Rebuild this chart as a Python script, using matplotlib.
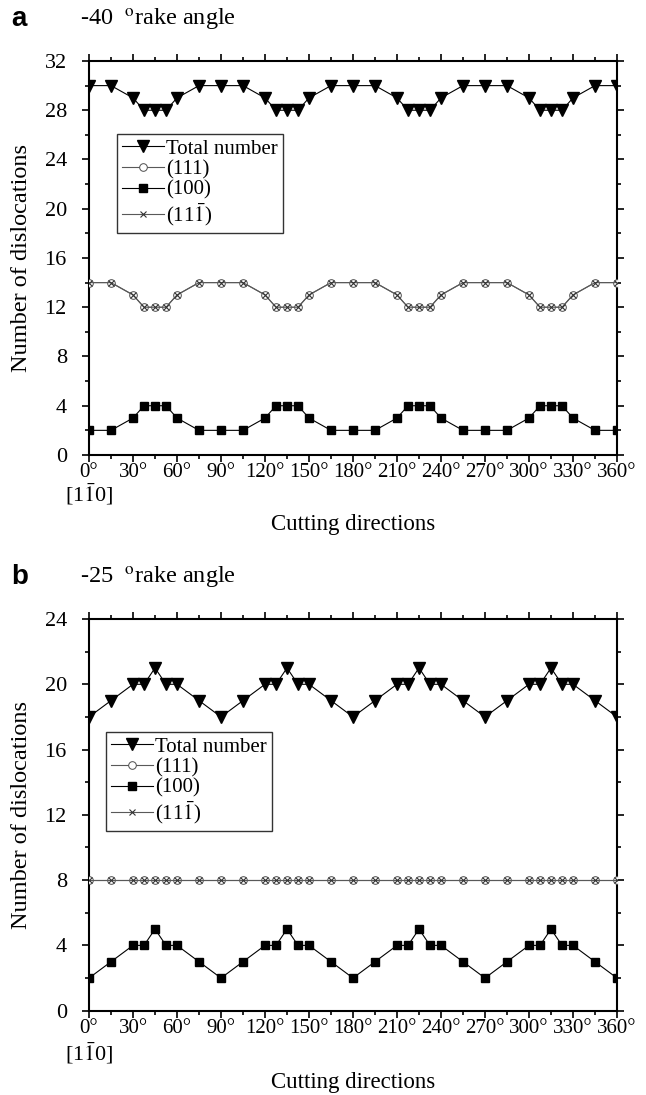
import matplotlib
matplotlib.use('Agg')
import matplotlib.pyplot as plt
from matplotlib.ticker import MultipleLocator

plt.rcParams['font.family'] = ['Liberation Serif', 'DejaVu Serif']
plt.rcParams['mathtext.fontset'] = 'stix'

# cutting directions (degrees)
angles = [0, 15, 30, 37.5, 45, 52.5, 60, 75,
          90, 105, 120, 127.5, 135, 142.5, 150, 165,
          180, 195, 210, 217.5, 225, 232.5, 240, 255,
          270, 285, 300, 307.5, 315, 322.5, 330, 345, 360]

# panel a: -40 deg rake angle
a_total = [30, 30, 29, 28, 28, 28, 29, 30,
           30, 30, 29, 28, 28, 28, 29, 30,
           30, 30, 29, 28, 28, 28, 29, 30,
           30, 30, 29, 28, 28, 28, 29, 30, 30]
a_111 = [14, 14, 13, 12, 12, 12, 13, 14,
         14, 14, 13, 12, 12, 12, 13, 14,
         14, 14, 13, 12, 12, 12, 13, 14,
         14, 14, 13, 12, 12, 12, 13, 14, 14]
a_11m1 = list(a_111)
a_100 = [2, 2, 3, 4, 4, 4, 3, 2,
         2, 2, 3, 4, 4, 4, 3, 2,
         2, 2, 3, 4, 4, 4, 3, 2,
         2, 2, 3, 4, 4, 4, 3, 2, 2]

# panel b: -25 deg rake angle
b_total = [18, 19, 20, 20, 21, 20, 20, 19,
           18, 19, 20, 20, 21, 20, 20, 19,
           18, 19, 20, 20, 21, 20, 20, 19,
           18, 19, 20, 20, 21, 20, 20, 19, 18]
b_111 = [8, 8, 8, 8, 8, 8, 8, 8,
         8, 8, 8, 8, 8, 8, 8, 8,
         8, 8, 8, 8, 8, 8, 8, 8,
         8, 8, 8, 8, 8, 8, 8, 8, 8]
b_11m1 = list(b_111)
b_100 = [2, 3, 4, 4, 5, 4, 4, 3,
         2, 3, 4, 4, 5, 4, 4, 3,
         2, 3, 4, 4, 5, 4, 4, 3,
         2, 3, 4, 4, 5, 4, 4, 3, 2]

xtick_labels = ['%d°' % v for v in range(0, 361, 30)]
legend_labels = ['Total number', '(111)', '(100)', r'(11$\bar{1}$)']


def draw_panel(ax, total, p111, p11m1, p100, ymax, leg_anchor, xlab_y, dir_y):
    ax.plot(angles, total, '-', color='k', lw=0.8, marker='v', ms=8,
            mfc='k', mec='k', label=legend_labels[0], zorder=3)
    ax.plot(angles, p111, '-', color='0.35', lw=0.8, marker='o', ms=5.5,
            mfc='white', mec='0.3', mew=0.7, label=legend_labels[1], zorder=3)
    ax.plot(angles, p100, '-', color='k', lw=0.8, marker='s', ms=6.2,
            mfc='k', mec='k', label=legend_labels[2], zorder=3)
    ax.plot(angles, p11m1, '-', color='0.35', lw=0.8, marker='x', ms=4.5,
            mec='0.2', mew=0.8, label=legend_labels[3], zorder=4)

    ax.set_xlim(0, 360)
    ax.set_ylim(0, ymax)
    ax.xaxis.set_major_locator(MultipleLocator(30))
    ax.xaxis.set_minor_locator(MultipleLocator(15))
    ax.yaxis.set_major_locator(MultipleLocator(4))
    ax.yaxis.set_minor_locator(MultipleLocator(2))
    ax.set_xticks(range(0, 361, 30))
    ax.set_xticklabels(xtick_labels)
    ax.tick_params(which='both', direction='out', top=True, right=True,
                   width=1.2)
    ax.tick_params(which='major', length=5)
    ax.tick_params(which='minor', length=3)
    ax.tick_params(axis='x', which='major', pad=1, labelsize=15)
    ax.tick_params(axis='y', which='major', pad=11, labelsize=16)
    for s in ax.spines.values():
        s.set_linewidth(1.5)

    ax.set_xlabel('Cutting directions', fontsize=16.5, va='center')
    ax.xaxis.set_label_coords(0.5, xlab_y)
    ax.set_ylabel('Number of dislocations', fontsize=17.5)
    ax.yaxis.set_label_coords(-0.108, 0.5)
    ax.text(0, dir_y, r'[1$\bar{1}$0]', transform=ax.transAxes,
            fontsize=16, ha='center', va='center')

    leg = ax.legend(loc='upper left', bbox_to_anchor=leg_anchor,
                    fontsize=15, frameon=True, fancybox=False,
                    edgecolor='k', handlelength=2.0, handletextpad=0.1,
                    labelspacing=0.05, borderpad=0.25, borderaxespad=0)
    leg.get_frame().set_linewidth(1.0)


fig = plt.figure(figsize=(6.46, 10.95), dpi=100)
ax1 = fig.add_axes([0.1378, 0.5845, 0.8173, 0.3598])
ax2 = fig.add_axes([0.1378, 0.0770, 0.8173, 0.3577])

draw_panel(ax1, a_total, a_111, a_11m1, a_100, 32, (0.053, 0.815), -0.177, -0.1)
draw_panel(ax2, b_total, b_111, b_11m1, b_100, 24, (0.032, 0.712), -0.184, -0.108)

fig.text(0.018, 0.983, 'a', fontsize=20, fontweight='bold',
         family='Liberation Sans', va='center')
fig.text(0.124, 0.982, r'-40  $^{\mathrm{o}}$rake angle', fontsize=17.5, va='center')
fig.text(0.018, 0.473, 'b', fontsize=20, fontweight='bold',
         family='Liberation Sans', va='center')
fig.text(0.124, 0.472, r'-25  $^{\mathrm{o}}$rake angle', fontsize=17.5, va='center')

fig.savefig('out.png', dpi=100)
